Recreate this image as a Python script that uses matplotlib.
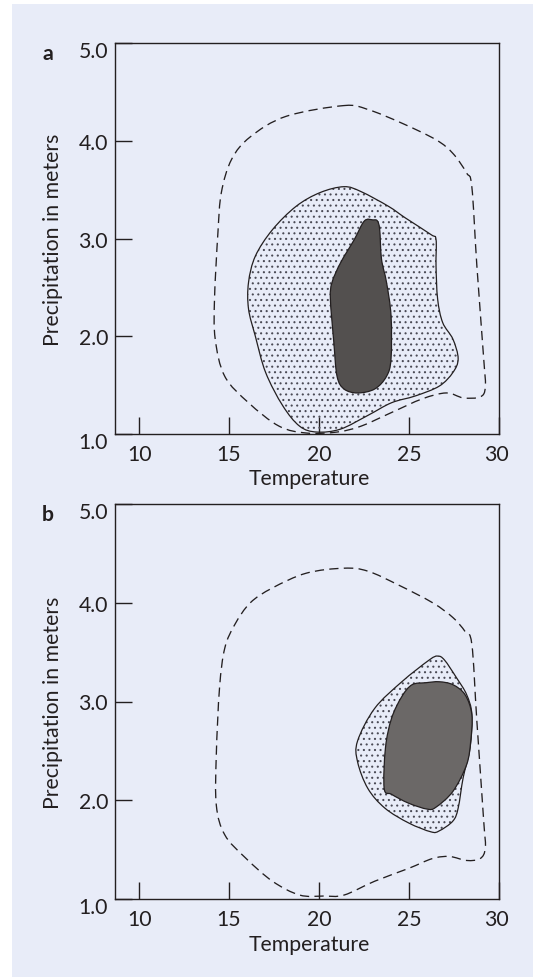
import matplotlib
matplotlib.use('Agg')
import matplotlib.pyplot as plt
import numpy as np
from matplotlib.path import Path
from matplotlib.patches import PathPatch, Rectangle
from matplotlib.transforms import ScaledTranslation

plt.rcParams['font.family'] = ['Lato', 'DejaVu Sans']
plt.rcParams['hatch.linewidth'] = 0.75

# ---------------- data ----------------
xticks = [10, 15, 20, 25, 30]
yticks = [1.0, 2.0, 3.0, 4.0, 5.0]
xlabel = 'Temperature'
ylabel = 'Precipitation in meters'
panel_labels = ['a', 'b']

# Panel a: outer limit (dashed), tolerance range (dotted), optimum (dark)
a_outer_temp = [21.39, 22.71, 24.6, 26.5, 27.44, 28.2, 28.49, 28.77, 29.15, 29.24, 28.96, 28.01, 27.07, 25.74,
                24.03, 22.33, 21.0, 19.3, 17.78, 16.08, 14.76, 14.23, 14.19, 14.38, 14.57, 15.14, 16.18, 18.17]
a_outer_prec = [4.36, 4.32, 4.18, 4.01, 3.87, 3.67, 3.53, 2.72, 1.77, 1.48, 1.38, 1.37, 1.42, 1.36,
                1.22, 1.08, 1.02, 1.01, 1.08, 1.32, 1.59, 1.97, 2.38, 3.06, 3.47, 3.81, 4.04, 4.25]
a_mid_temp = [21.39, 22.33, 23.85, 24.8, 26.22, 26.5, 26.5, 26.59, 26.87, 27.44, 27.73, 27.44, 26.68, 25.36,
              24.03, 22.71, 21.19, 19.87, 18.92, 17.98, 17.03, 16.46, 16.08, 16.08, 16.46, 17.41, 18.73, 20.06]
a_mid_prec = [3.53, 3.48, 3.33, 3.21, 3.04, 2.99, 2.72, 2.38, 2.14, 1.97, 1.77, 1.63, 1.49, 1.39,
              1.32, 1.19, 1.05, 1.02, 1.08, 1.29, 1.63, 2.00, 2.28, 2.55, 2.82, 3.09, 3.33, 3.47]
a_core_temp = [23.0, 23.24, 23.37, 23.47, 23.75, 24.0, 24.0, 23.75, 23.09, 22.14, 21.39, 21.0, 20.82,
               20.63, 20.72, 21.19, 21.96, 22.52]
a_core_prec = [3.19, 3.18, 3.09, 2.79, 2.55, 2.21, 1.77, 1.59, 1.46, 1.42, 1.46, 1.59, 1.94,
               2.38, 2.55, 2.75, 2.99, 3.18]

# Panel b
b_outer_temp = [21.39, 22.71, 24.41, 26.31, 27.44, 28.11, 28.49, 28.77, 29.15, 29.24, 28.96, 28.21, 27.26, 26.31,
                24.98, 23.09, 21.39, 20.25, 18.92, 17.41, 15.89, 14.76, 14.29, 14.29, 14.47, 14.76, 15.32, 16.18,
                17.41, 19.3]
b_outer_prec = [4.35, 4.32, 4.18, 4.0, 3.85, 3.71, 3.58, 2.80, 1.79, 1.52, 1.41, 1.39, 1.43, 1.41,
                1.31, 1.18, 1.04, 1.03, 1.04, 1.18, 1.42, 1.65, 1.95, 2.46, 3.14, 3.54, 3.78, 4.0,
                4.15, 4.30]
b_mid_temp = [26.59, 26.97, 27.64, 28.2, 28.49, 28.39, 28.01, 27.73, 27.44, 26.68, 26.22, 24.98, 23.66,
              22.71, 22.14, 22.14, 23.09, 24.6, 26.12]
b_mid_prec = [3.46, 3.42, 3.24, 3.07, 2.87, 2.53, 2.23, 1.92, 1.79, 1.69, 1.68, 1.77, 1.92,
              2.12, 2.39, 2.60, 2.93, 3.20, 3.42]
b_core_temp = [25.93, 26.68, 27.44, 28.11, 28.49, 28.43, 28.2, 27.44, 26.5, 26.02, 24.98, 24.03, 23.62,
               23.69, 24.03, 24.6, 25.17]
b_core_prec = [3.19, 3.20, 3.17, 3.07, 2.87, 2.60, 2.36, 2.09, 1.93, 1.91, 1.97, 2.06, 2.12,
               2.53, 2.83, 3.05, 3.17]

panels = [
    (a_outer_temp, a_outer_prec, a_mid_temp, a_mid_prec, a_core_temp, a_core_prec, '#53504f'),
    (b_outer_temp, b_outer_prec, b_mid_temp, b_mid_prec, b_core_temp, b_core_prec, '#6b6867'),
]

# ---------------- style ----------------
BG = '#e8ecf8'
INK = '#231f20'
DOT = '#4a4a55'
FS = 15.3


def smooth_closed_path(xs, ys):
    """Closed Catmull-Rom curve through the given points, as cubic Bezier path."""
    p = np.column_stack([xs, ys]).astype(float)
    n = len(p)
    verts = [p[0]]
    codes = [Path.MOVETO]
    for i in range(n):
        p0, p1, p2, p3 = p[(i - 1) % n], p[i], p[(i + 1) % n], p[(i + 2) % n]
        c1 = p1 + (p2 - p0) / 6.0
        c2 = p2 - (p3 - p1) / 6.0
        verts += [c1, c2, p2]
        codes += [Path.CURVE4] * 3
    verts.append(p[0])
    codes.append(Path.CLOSEPOLY)
    return Path(np.array(verts), codes)


fig = plt.figure(figsize=(5.33, 9.78), dpi=100)
fig.patch.set_facecolor('white')
fig.patches.append(Rectangle((12 / 533, 0), 1 - 12 / 533, 1 - 5 / 978,
                             transform=fig.transFigure, facecolor=BG, edgecolor='none', zorder=-10))

axes_rects = [
    [115 / 533, 1 - 435 / 978, 384 / 533, 391 / 978],
    [115 / 533, 1 - 900 / 978, 384 / 533, 395 / 978],
]

for idx, (ot, op, mt, mp, ct, cp, core_col) in enumerate(panels):
    ax = fig.add_axes(axes_rects[idx])
    ax.set_facecolor('none')
    ax.set_xlim(8.66, 30.0)
    ax.set_ylim(1.0, 5.0)

    ax.add_patch(PathPatch(smooth_closed_path(ot, op), facecolor='none', edgecolor=INK,
                           linewidth=0.95, linestyle=(0, (7, 4)), zorder=2))
    mid_path = smooth_closed_path(mt, mp)
    # dotted fill (hatch colour follows edge colour; edge itself not stroked)
    ax.add_patch(PathPatch(mid_path, facecolor='none', edgecolor=DOT,
                           linewidth=0, hatch='...', zorder=3))
    ax.add_patch(PathPatch(mid_path, facecolor='none', edgecolor=INK,
                           linewidth=0.9, zorder=3.5))
    ax.add_patch(PathPatch(smooth_closed_path(ct, cp), facecolor=core_col, edgecolor=INK,
                           linewidth=0.9, zorder=4))

    for s in ax.spines.values():
        s.set_color(INK)
        s.set_linewidth(1.0)

    ax.set_xticks(xticks)
    ax.set_yticks(yticks)
    ax.set_xticklabels([str(v) for v in xticks])
    ax.set_yticklabels([f'{v:.1f}' for v in yticks])
    ax.tick_params(direction='in', length=12, width=1.0, color=INK, labelcolor=INK,
                   labelsize=FS)
    ax.tick_params(axis='x', pad=7)
    ax.tick_params(axis='y', pad=5)

    # shift the corner labels slightly like the original
    for lab, v in zip(ax.get_yticklabels(), yticks):
        if v in (1.0, 5.0):
            lab.set_transform(lab.get_transform() + ScaledTranslation(0, -6 / 100, fig.dpi_scale_trans))
    for lab, v in zip(ax.get_xticklabels(), xticks):
        if v == 30:
            lab.set_transform(lab.get_transform() + ScaledTranslation(-3 / 100, 0, fig.dpi_scale_trans))

    ax.set_xlabel(xlabel, fontsize=FS, color=INK)
    ax.set_ylabel(ylabel, fontsize=FS, color=INK)
    ax.xaxis.set_label_coords(0.505, -0.088)
    ax.yaxis.set_label_coords(-0.135, 0.5)

    ax.text(-0.175, 1.0, panel_labels[idx], transform=ax.transAxes, fontsize=FS,
            fontweight='bold', color=INK, ha='center', va='top')

fig.savefig('out.png', dpi=100, facecolor='white')
